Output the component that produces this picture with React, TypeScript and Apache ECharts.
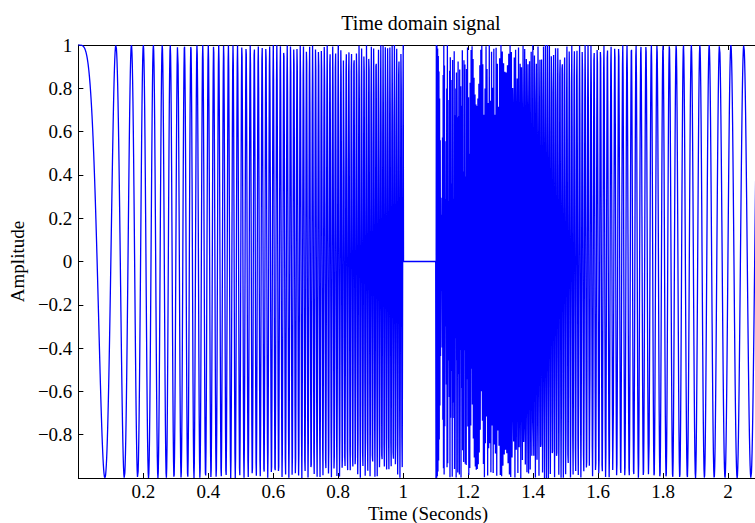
import React, { useEffect, useRef } from "react";
import * as echarts from "echarts";

const sampleRate = 1000; // samples per second
const segmentStart = [0, 1.0, 1.1]; // seconds
const segmentEnd = [1.0, 1.1, 2.1]; // seconds
const startFreq = [0, 0, 500]; // Hz
const endFreq = [150, 0, 20]; // Hz
const sweepKind = ["linear", "silence", "logarithmic"];

// Axis ticks
const xTicks = [0.2, 0.4, 0.6, 0.8, 1, 1.2, 1.4, 1.6, 1.8, 2];
const yTicks = [-0.8, -0.6, -0.4, -0.2, 0, 0.2, 0.4, 0.6, 0.8, 1];
const xMin = 0;
const xMax = 2.083;
const yMin = -1;
const yMax = 1;

function buildSignal(): [number, number][] {
  const pts: [number, number][] = [];
  const last = segmentEnd.length - 1;
  const total = Math.round(segmentEnd[last] * sampleRate);
  for (let n = 0; n <= total; n++) {
    const t = n / sampleRate;
    let i = 0;
    while (i < last && t > segmentEnd[i] + 1e-9) i++;
    const tau = t - segmentStart[i];
    const dur = segmentEnd[i] - segmentStart[i];
    const f0 = startFreq[i];
    const f1 = endFreq[i];
    let y = 0;
    if (sweepKind[i] === "linear") {
      const phi = 2 * Math.PI * (f0 * tau + ((f1 - f0) / (2 * dur)) * tau * tau);
      y = Math.cos(phi);
    } else if (sweepKind[i] === "logarithmic") {
      const k = Math.pow(f1 / f0, 1 / dur);
      const phi = (2 * Math.PI * f0 * (Math.pow(k, tau) - 1)) / Math.log(k);
      y = Math.cos(phi);
    }
    pts.push([t, y]);
  }
  return pts;
}

const FONT = "Liberation Serif";
const FS = 19;

const isTick = (v: number, list: number[]) => list.some((x) => Math.abs(x - v) < 1e-6);
const fmt = (v: number) => String(Math.round(v * 10) / 10).replace("-", "\u2212");

export default function App() {
  const ref = useRef<HTMLDivElement>(null);
  useEffect(() => {
    document.body.style.margin = "0";
    const chart = echarts.init(ref.current!, null, { renderer: "svg" });
    const data = buildSignal();
    chart.setOption({
      animation: false,
      backgroundColor: "#ffffff",
      grid: { left: 78, right: 0, top: 45, bottom: 45, containLabel: false },
      graphic: [
        {
          type: "text",
          x: 421,
          y: 23,
          style: {
            text: "Time domain signal",
            font: `20px "${FONT}"`,
            fill: "#000",
            textAlign: "center",
            textVerticalAlign: "middle",
          },
        },
        {
          type: "text",
          x: 428,
          y: 513,
          style: {
            text: "Time (Seconds)",
            font: `${FS}px "${FONT}"`,
            fill: "#000",
            textAlign: "center",
            textVerticalAlign: "middle",
            lineHeight: 17,
          },
        },
      ],
      xAxis: [
        {
          type: "value",
          min: xMin,
          max: xMax,
          interval: 0.2,
          position: "bottom",
          axisLine: { show: true, onZero: false, lineStyle: { color: "#000", width: 1 } },
          axisTick: { show: true, inside: true, length: 5, lineStyle: { color: "#000" } },
          axisLabel: {
            show: true,
            margin: 5,
            color: "#000",
            fontFamily: FONT,
            fontSize: FS,
            lineHeight: 17,
            showMaxLabel: false,
            formatter: (v: number) => (isTick(v, xTicks) ? fmt(v) : ""),
          },
          splitLine: { show: false },
        },
        {
          type: "value",
          min: xMin,
          max: xMax,
          interval: 0.2,
          position: "top",
          axisLine: { show: true, onZero: false, lineStyle: { color: "#000", width: 1 } },
          axisTick: { show: true, inside: true, length: 5, lineStyle: { color: "#000" } },
          axisLabel: { show: false },
          splitLine: { show: false },
        },
      ],
      yAxis: [
        {
          type: "value",
          min: yMin,
          max: yMax,
          interval: 0.2,
          name: "Amplitude",
          nameLocation: "middle",
          nameRotate: 90,
          nameGap: 45,
          nameTextStyle: { color: "#000", fontFamily: FONT, fontSize: FS },
          axisLine: { show: true, onZero: false, lineStyle: { color: "#000", width: 1 } },
          axisTick: { show: true, inside: true, length: 5, lineStyle: { color: "#000" } },
          axisLabel: {
            show: true,
            margin: 6,
            color: "#000",
            fontFamily: FONT,
            fontSize: FS,
            formatter: (v: number) => (isTick(v, yTicks) ? fmt(v) : ""),
          },
          splitLine: { show: false },
        },
      ],
      series: [
        {
          type: "line",
          data,
          showSymbol: false,
          symbol: "none",
          lineStyle: { color: "#0000ff", width: 1.3 },
          itemStyle: { color: "#0000ff" },
          clip: true,
        },
      ],
    });
    return () => chart.dispose();
  }, []);
  return <div ref={ref} style={{ width: 755, height: 523 }} />;
}
